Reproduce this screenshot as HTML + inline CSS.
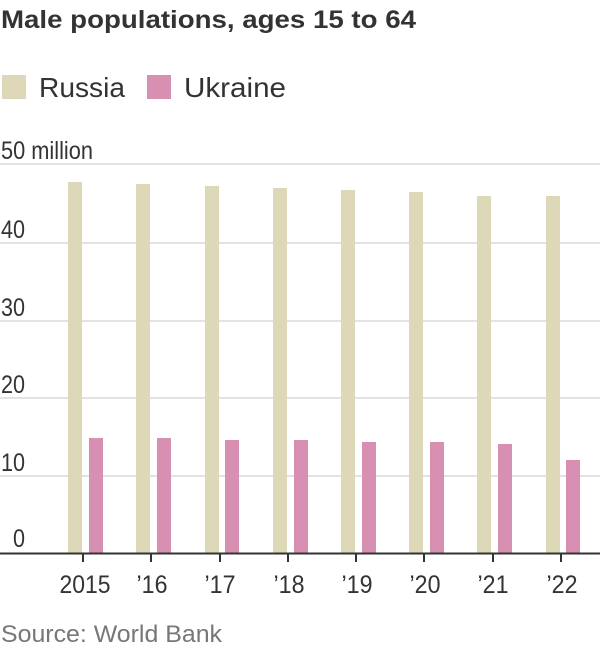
<!DOCTYPE html>
<html><head><meta charset="utf-8"><style>
html,body{margin:0;padding:0;background:#fff;width:600px;height:650px;overflow:hidden}
svg text{font-family:"Liberation Sans",sans-serif}
</style></head><body>
<svg width="600" height="650" viewBox="0 0 600 650" xmlns="http://www.w3.org/2000/svg">
<text x="1" y="28" font-size="25" font-weight="bold" fill="#333" textLength="415" lengthAdjust="spacingAndGlyphs">Male populations, ages 15 to 64</text>
<rect x="2" y="75" width="24" height="24" fill="#ddd9b8"/>
<text x="39" y="97" font-size="28" fill="#333" textLength="86" lengthAdjust="spacingAndGlyphs">Russia</text>
<rect x="147" y="75" width="24" height="24" fill="#d78fb2"/>
<text x="184" y="97" font-size="28" fill="#333" textLength="102" lengthAdjust="spacingAndGlyphs">Ukraine</text>
<g stroke="#e3e3e3" stroke-width="2">
<line x1="0" x2="600" y1="164" y2="164"/>
<line x1="0" x2="600" y1="243" y2="243"/>
<line x1="0" x2="600" y1="321" y2="321"/>
<line x1="0" x2="600" y1="398" y2="398"/>
<line x1="0" x2="600" y1="476" y2="476"/>
</g>
<g font-size="25" fill="#333">
<text x="1" y="159" textLength="92" lengthAdjust="spacingAndGlyphs">50 million</text>
<text x="1" y="238" textLength="24" lengthAdjust="spacingAndGlyphs">40</text>
<text x="1" y="316" textLength="24" lengthAdjust="spacingAndGlyphs">30</text>
<text x="1" y="393" textLength="24" lengthAdjust="spacingAndGlyphs">20</text>
<text x="1" y="471" textLength="24" lengthAdjust="spacingAndGlyphs">10</text>
<text x="13" y="547" textLength="12" lengthAdjust="spacingAndGlyphs">0</text>
</g>
<g fill="#ddd9b8">
<rect x="68" y="182" width="14" height="371"/>
<rect x="136" y="184" width="14" height="369"/>
<rect x="205" y="186" width="14" height="367"/>
<rect x="273" y="188" width="14" height="365"/>
<rect x="341" y="190" width="14" height="363"/>
<rect x="409" y="192" width="14" height="361"/>
<rect x="477" y="196" width="14" height="357"/>
<rect x="546" y="196" width="14" height="357"/>
</g>
<g fill="#d78fb2">
<rect x="89" y="438" width="14" height="115"/>
<rect x="157" y="438" width="14" height="115"/>
<rect x="225" y="440" width="14" height="113"/>
<rect x="294" y="440" width="14" height="113"/>
<rect x="362" y="442" width="14" height="111"/>
<rect x="430" y="442" width="14" height="111"/>
<rect x="498" y="444" width="14" height="109"/>
<rect x="566" y="460" width="14" height="93"/>
</g>
<line x1="0" x2="600" y1="553.5" y2="553.5" stroke="#333" stroke-width="2"/>
<g stroke="#333" stroke-width="2">
<line x1="83" x2="83" y1="553" y2="562"/>
<line x1="151" x2="151" y1="553" y2="562"/>
<line x1="220" x2="220" y1="553" y2="562"/>
<line x1="288" x2="288" y1="553" y2="562"/>
<line x1="356" x2="356" y1="553" y2="562"/>
<line x1="424" x2="424" y1="553" y2="562"/>
<line x1="493" x2="493" y1="553" y2="562"/>
<line x1="561" x2="561" y1="553" y2="562"/>
</g>
<g font-size="25" fill="#333" text-anchor="middle">
<text x="85" y="593" textLength="51" lengthAdjust="spacingAndGlyphs">2015</text>
<text x="152" y="593" textLength="31" lengthAdjust="spacingAndGlyphs">’16</text>
<text x="220" y="593" textLength="31" lengthAdjust="spacingAndGlyphs">’17</text>
<text x="289" y="593" textLength="31" lengthAdjust="spacingAndGlyphs">’18</text>
<text x="357" y="593" textLength="31" lengthAdjust="spacingAndGlyphs">’19</text>
<text x="425" y="593" textLength="31" lengthAdjust="spacingAndGlyphs">’20</text>
<text x="493" y="593" textLength="31" lengthAdjust="spacingAndGlyphs">’21</text>
<text x="562" y="593" textLength="31" lengthAdjust="spacingAndGlyphs">’22</text>
</g>
<text x="1" y="642" font-size="24" fill="#777" textLength="221" lengthAdjust="spacingAndGlyphs">Source: World Bank</text>
</svg>
</body></html>
